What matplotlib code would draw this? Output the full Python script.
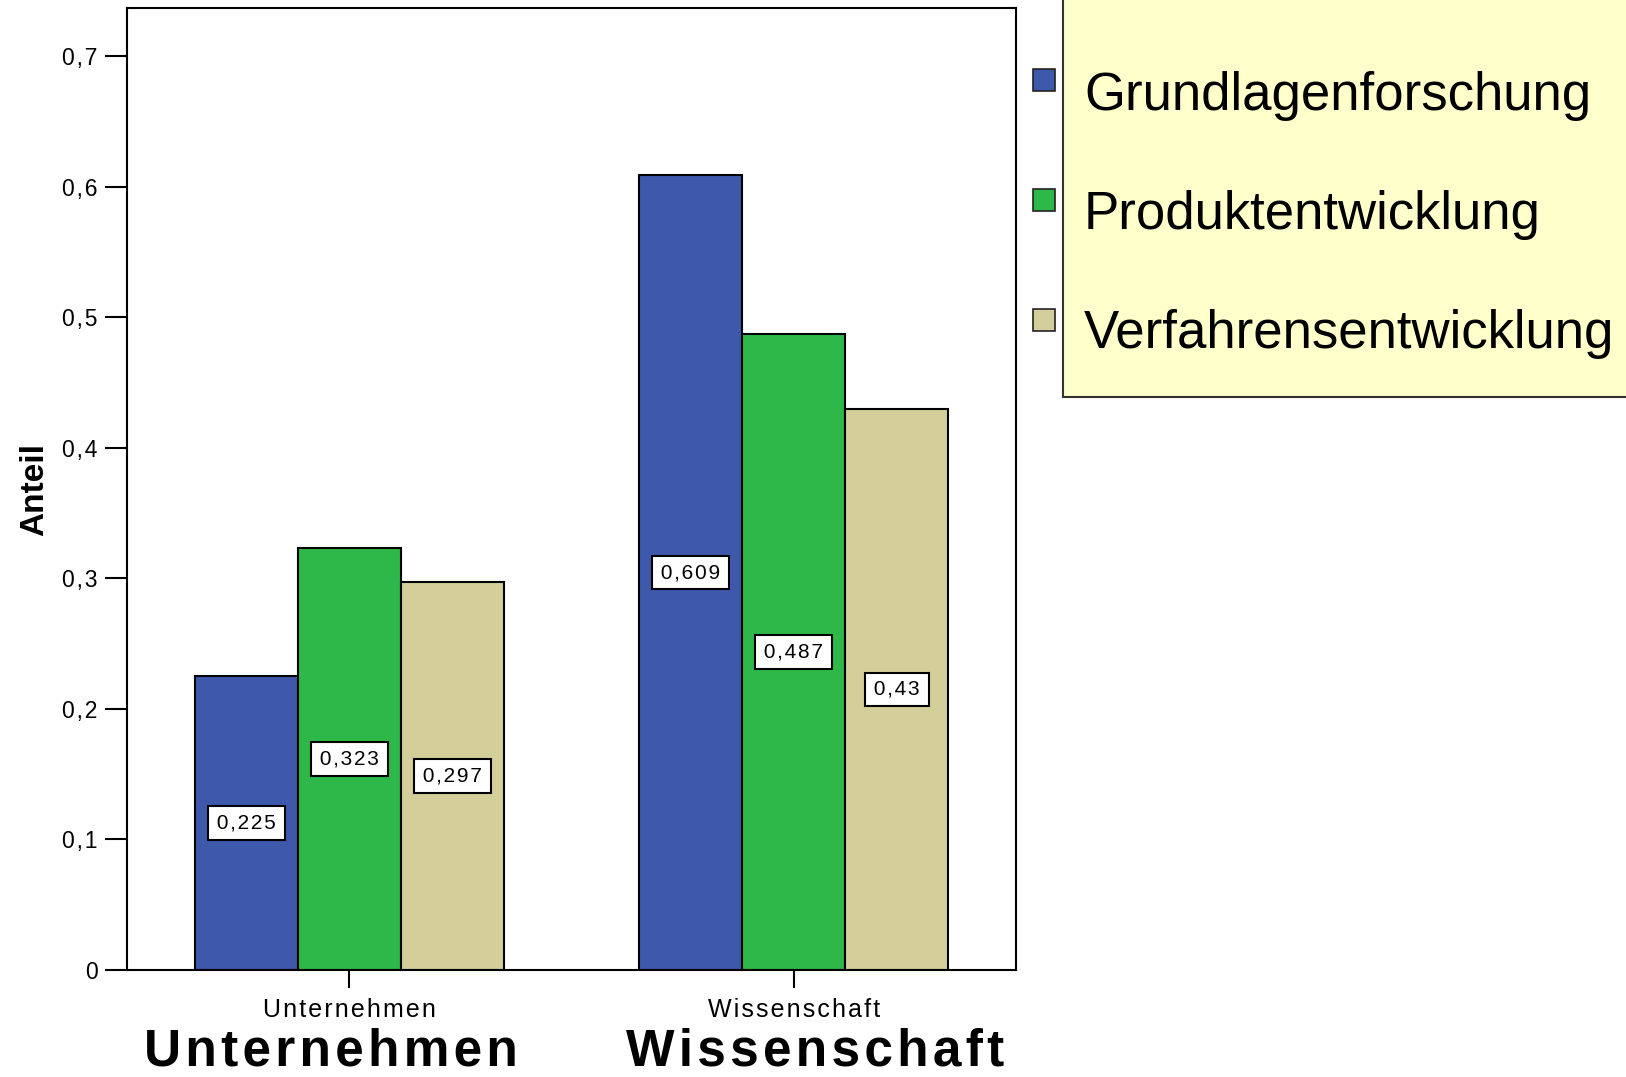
import matplotlib.pyplot as plt
from matplotlib.patches import Rectangle
import numpy as np

plt.rcParams['font.family'] = ['Liberation Sans', 'DejaVu Sans']

groups = ['Unternehmen', 'Wissenschaft']
series = ['Grundlagenforschung', 'Produktentwicklung', 'Verfahrensentwicklung']
values = {
    'Grundlagenforschung': [0.225, 0.609],
    'Produktentwicklung': [0.323, 0.487],
    'Verfahrensentwicklung': [0.297, 0.43],
}
labels = {
    'Grundlagenforschung': ['0,225', '0,609'],
    'Produktentwicklung': ['0,323', '0,487'],
    'Verfahrensentwicklung': ['0,297', '0,43'],
}
colors = ['#3E58AB', '#2EB84A', '#D4CF9A']
yticks = [0, 0.1, 0.2, 0.3, 0.4, 0.5, 0.6, 0.7]
ytick_labels = ['0', '0,1', '0,2', '0,3', '0,4', '0,5', '0,6', '0,7']

HS = '\u200a'  # hair space for letter spacing


def spaced(s):
    return HS.join(s)


W, H = 1626, 1077
fig = plt.figure(figsize=(W / 100, H / 100), dpi=100)
ax = fig.add_axes([127 / W, (H - 970) / H, 889 / W, 962 / H])

x = np.arange(len(groups))
bw = 0.232
for i, (name, c) in enumerate(zip(series, colors)):
    pos = x + (i - 1) * bw
    ax.bar(pos, values[name], width=bw, color=c, edgecolor='black', linewidth=1.5, zorder=2)
    for px, v, lab in zip(pos, values[name], labels[name]):
        ax.text(px, v / 2, HS + spaced(lab) + HS, ha='center', va='center', fontsize=15,
                zorder=3, bbox=dict(boxstyle='square,pad=0.35', fc='white', ec='black', lw=1.5))

ax.set_xlim(-0.5, 1.5)
ax.set_ylim(0, 0.737)
ax.set_yticks(yticks)
ax.set_yticklabels([spaced(t) for t in ytick_labels], fontsize=16.5)
ax.set_xticks(x)
ax.set_xticklabels([spaced(g) for g in groups], fontsize=18)
ax.tick_params(axis='y', length=16, width=1.5, pad=5)
ax.tick_params(axis='x', length=13, width=1.5, pad=7)
for sp in ax.spines.values():
    sp.set_linewidth(1.5)
ax.set_ylabel('Anteil', fontsize=24, fontweight='bold', labelpad=9)

# large group captions below the axis
for gx, g in zip([331, 815], groups):
    fig.text(gx / W, (H - 1066) / H, spaced(g), ha='center', va='baseline',
             fontsize=37, fontweight='bold')

# legend box drawn by hand (markers sit outside the yellow box)
fig.patches.append(Rectangle((1063 / W, (H - 397) / H), 700 / W, 500 / H,
                             transform=fig.transFigure, fc='#FFFFCC', ec='#333333',
                             lw=1.5, clip_on=False))
for name, c, my, ty in zip(series, colors, [80, 200, 320], [110, 229, 348]):
    fig.patches.append(Rectangle((1033 / W, (H - my - 11) / H), 22 / W, 22 / H,
                                 transform=fig.transFigure, fc=c, ec='#222222', lw=1.2))
    fig.text(1084 / W, (H - ty) / H, name, ha='left', va='baseline', fontsize=38)

fig.savefig('out.png', dpi=100)
